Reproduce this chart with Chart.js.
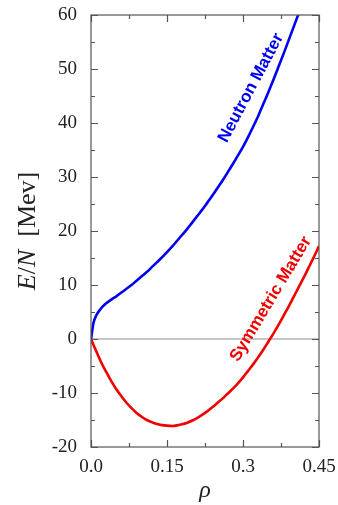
<!DOCTYPE html>
<html>
<head>
<meta charset="utf-8">
<script src="https://cdn.jsdelivr.net/npm/chart.js@4"></script>
<style>
  html, body { margin: 0; padding: 0; background: #fff; }
  #eos { display: block; }
</style>
</head>
<body>
<canvas id="eos" width="338" height="505"></canvas>
<script>
// density grid (fm^-3)
const rho = [0, 0.005, 0.01, 0.02, 0.03, 0.04, 0.05, 0.06, 0.07, 0.08, 0.09,
  0.10, 0.11, 0.12, 0.13, 0.14, 0.15, 0.16, 0.17, 0.18, 0.19,
  0.20, 0.21, 0.22, 0.23, 0.24, 0.25, 0.26, 0.27, 0.28, 0.29,
  0.30, 0.31, 0.32, 0.33, 0.34, 0.35, 0.36, 0.37, 0.38, 0.39,
  0.40, 0.41, 0.42, 0.43, 0.44, 0.45];
// E/N (MeV)
const neutronMatter = [0, 3.0, 4.3, 5.7, 6.6, 7.3, 7.9, 8.6, 9.3, 10.0, 10.8,
  11.6, 12.4, 13.3, 14.2, 15.1, 16.1, 17.1, 18.2, 19.3, 20.4,
  21.6, 22.8, 24.0, 25.3, 26.6, 28.0, 29.4, 30.9, 32.4, 34.0,
  35.6, 37.4, 39.3, 41.3, 43.5, 45.7, 48.0, 50.4, 52.8, 55.3,
  57.8, 60.3, 62.9, 65.5, null, null];
const symmetricMatter = [0, -1.1, -2.2, -4.3, -6.1, -7.8, -9.3, -10.6, -11.8, -12.8, -13.7,
  -14.4, -15.0, -15.4, -15.75, -15.95, -16.05, -16.1, -16.0, -15.8, -15.5,
  -15.1, -14.6, -14.0, -13.35, -12.6, -11.8, -11.0, -10.1, -9.2, -8.2,
  -7.1, -5.9, -4.7, -3.4, -2.0, -0.5, 1.0, 2.6, 4.3, 6.0,
  7.8, 9.6, 11.4, 13.3, 15.2, 17.2];

const xTicks = [0, 0.15, 0.3, 0.45];
const xTickLabels = ["0.0", "0.15", "0.3", "0.45"];
const xMinorTicks = [0.075, 0.225, 0.375];
const yTicks = [-20, -10, 0, 10, 20, 30, 40, 50, 60];
const yMinorTicks = [-15, -5, 5, 15, 25, 35, 45, 55];

const seriesNames = ["Neutron Matter", "Symmetric Matter"];
const seriesColors = ["#0000f0", "#f00000"];

// where the curve names sit (data coords) and their slant
const curveLabels = [
  { text: seriesNames[0], x: 0.316, y: 46.5, angle: -62, color: seriesColors[0] },
  { text: seriesNames[1], x: 0.355, y: 7.4, angle: -59, color: seriesColors[1] }
];

const serif = "'Liberation Serif', 'Times New Roman', serif";

drawChart();

function drawChart() {
  const toPoints = (vals) => rho.map((r, i) => ({ x: r, y: vals[i] }));

  const framePlugin = {
    id: "frame",
    beforeDatasetsDraw(chart) {
      const ctx = chart.ctx, a = chart.chartArea;
      const y0 = chart.scales.y.getPixelForValue(0);
      ctx.save();
      ctx.strokeStyle = "#b4b4b4";
      ctx.lineWidth = 1.5;
      ctx.beginPath();
      ctx.moveTo(a.left, y0);
      ctx.lineTo(a.right, y0);
      ctx.stroke();
      ctx.restore();
    },
    afterDraw(chart) {
      const ctx = chart.ctx, a = chart.chartArea;
      const xs = chart.scales.x, ys = chart.scales.y;
      ctx.save();
      // box
      ctx.strokeStyle = "#555";
      ctx.lineWidth = 1.2;
      ctx.strokeRect(a.left, a.top, a.right - a.left, a.bottom - a.top);

      // inward ticks on all sides
      const tickX = (v, len) => {
        const px = Math.round(xs.getPixelForValue(v)) + 0.5;
        ctx.moveTo(px, a.bottom); ctx.lineTo(px, a.bottom - len);
        ctx.moveTo(px, a.top); ctx.lineTo(px, a.top + len);
      };
      const tickY = (v, len) => {
        const py = Math.round(ys.getPixelForValue(v)) + 0.5;
        ctx.moveTo(a.left, py); ctx.lineTo(a.left + len, py);
        ctx.moveTo(a.right, py); ctx.lineTo(a.right - len, py);
      };
      ctx.beginPath();
      xTicks.forEach(v => tickX(v, 7));
      xMinorTicks.forEach(v => tickX(v, 4));
      yTicks.forEach(v => tickY(v, 7));
      yMinorTicks.forEach(v => tickY(v, 4));
      ctx.stroke();

      // curve names
      curveLabels.forEach(l => {
        ctx.save();
        ctx.translate(xs.getPixelForValue(l.x), ys.getPixelForValue(l.y));
        ctx.rotate(l.angle * Math.PI / 180);
        ctx.font = "bold 17px 'Liberation Sans', Arial, sans-serif";
        ctx.fillStyle = l.color;
        ctx.textAlign = "center";
        ctx.textBaseline = "middle";
        ctx.fillText(l.text, 0, 0);
        ctx.restore();
      });

      // x title
      ctx.fillStyle = "#222";
      ctx.font = "italic 24px " + serif;
      ctx.textAlign = "center";
      ctx.textBaseline = "middle";
      ctx.fillText("\u03C1", (a.left + a.right) / 2, 491);

      // y title: E/N [Mev], mixed italic / upright
      const parts = [
        { t: "E", f: "italic 26px " + serif },
        { t: "/", f: "26px " + serif },
        { t: "N", f: "italic 26px " + serif },
        { t: "  [Mev]", f: "26px " + serif }
      ];
      let total = 0;
      parts.forEach(p => { ctx.font = p.f; p.w = ctx.measureText(p.t).width; total += p.w; });
      ctx.translate(28, 231);
      ctx.rotate(-Math.PI / 2);
      ctx.textAlign = "left";
      let cx = -total / 2;
      parts.forEach(p => { ctx.font = p.f; ctx.fillText(p.t, cx, 0); cx += p.w; });
      ctx.restore();
    }
  };

  const config = {
    type: "line",
    data: {
      datasets: [
        {
          label: seriesNames[0],
          data: toPoints(neutronMatter),
          borderColor: seriesColors[0],
          borderWidth: 2.6,
          pointRadius: 0,
          cubicInterpolationMode: "monotone",
          fill: false
        },
        {
          label: seriesNames[1],
          data: toPoints(symmetricMatter),
          borderColor: seriesColors[1],
          borderWidth: 2.6,
          pointRadius: 0,
          cubicInterpolationMode: "monotone",
          fill: false
        }
      ]
    },
    options: {
      responsive: false,
      animation: false,
      layout: { padding: { top: 15, right: 19, left: 0, bottom: 0 } },
      plugins: { legend: { display: false }, tooltip: { enabled: false } },
      scales: {
        x: {
          type: "linear",
          min: 0,
          max: 0.45,
          grid: { display: false, drawTicks: false },
          border: { display: false },
          afterBuildTicks: (s) => { s.ticks = xTicks.map(v => ({ value: v })); },
          afterFit: (s) => { s.height = 58; s.paddingLeft = 0; s.paddingRight = 0; },
          ticks: {
            padding: 9,
            color: "#222",
            maxRotation: 0,
            font: { family: serif, size: 19 },
            callback: (v) => xTickLabels[xTicks.indexOf(v)]
          }
        },
        y: {
          min: -20,
          max: 60,
          grid: { display: false, drawTicks: false },
          border: { display: false },
          afterBuildTicks: (s) => { s.ticks = yTicks.map(v => ({ value: v })); },
          afterFit: (s) => { s.width = 91; s.paddingTop = 0; s.paddingBottom = 0; },
          ticks: {
            padding: 14,
            color: "#222",
            font: { family: serif, size: 19 }
          }
        }
      }
    },
    plugins: [framePlugin]
  };

  new Chart(document.getElementById("eos"), config);
}
</script>
</body>
</html>
